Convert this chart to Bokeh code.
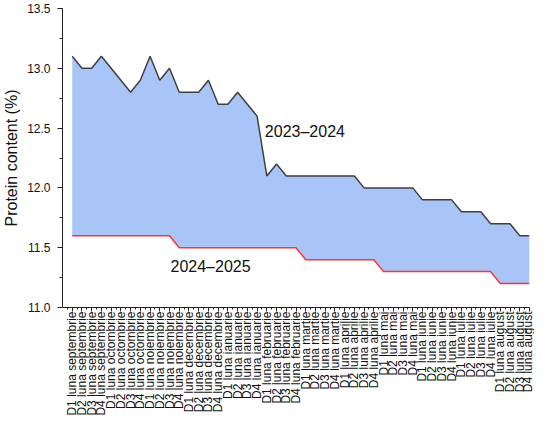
import math
from bokeh.plotting import figure
from bokeh.models import Range1d, FixedTicker, SingleIntervalTicker, PrintfTickFormatter, Label, ColumnDataSource
from bokeh.embed import file_html
from bokeh.resources import INLINE

months = ["septembrie", "octombrie", "noiembrie", "decembrie", "ianuarie", "februarie",
          "martie", "aprilie", "mai", "iunie", "iulie", "august"]
categories = [f"D{d} luna {m}" for m in months for d in range(1, 5)]

season_2023_2024 = [13.1, 13.0, 13.0, 13.1,
                    13.0, 12.9, 12.8, 12.9,
                    13.1, 12.9, 13.0, 12.8,
                    12.8, 12.8, 12.9, 12.7,
                    12.7, 12.8, 12.7, 12.6,
                    12.1, 12.2, 12.1, 12.1,
                    12.1, 12.1, 12.1, 12.1,
                    12.1, 12.1, 12.0, 12.0,
                    12.0, 12.0, 12.0, 12.0,
                    11.9, 11.9, 11.9, 11.9,
                    11.8, 11.8, 11.8, 11.7,
                    11.7, 11.7, 11.6, 11.6]

season_2024_2025 = [11.6, 11.6, 11.6, 11.6,
                    11.6, 11.6, 11.6, 11.6,
                    11.6, 11.6, 11.6, 11.5,
                    11.5, 11.5, 11.5, 11.5,
                    11.5, 11.5, 11.5, 11.5,
                    11.5, 11.5, 11.5, 11.5,
                    11.4, 11.4, 11.4, 11.4,
                    11.4, 11.4, 11.4, 11.4,
                    11.3, 11.3, 11.3, 11.3,
                    11.3, 11.3, 11.3, 11.3,
                    11.3, 11.3, 11.3, 11.3,
                    11.2, 11.2, 11.2, 11.2]

series_names = ["2023\u20132024", "2024\u20132025"]
label_x = [19.8, 10.1]
label_y = [12.47, 11.343]

y_ticks_start, y_ticks_end = 11.0, 13.5

x = list(range(len(categories)))
src = ColumnDataSource(dict(x=x, top=season_2023_2024, bottom=season_2024_2025))

p = figure(width=534, height=418, output_backend="svg", toolbar_location=None,
           x_range=Range1d(-1, len(categories) - 1), y_range=Range1d(y_ticks_start, y_ticks_end),
           min_border_left=57, min_border_right=5, min_border_top=8, min_border_bottom=100)
p.outline_line_color = None
p.xgrid.visible = False
p.ygrid.visible = False
p.background_fill_color = "white"
p.border_fill_color = "white"

p.varea(x="x", y1="bottom", y2="top", source=src, fill_color="#a9c5f7")
p.line(x="x", y="top", source=src, line_color="#404040", line_width=1.5)
p.line(x="x", y="bottom", source=src, line_color="#ff3333", line_width=1.5)

for name, lx, ly in zip(series_names, label_x, label_y):
    p.add_layout(Label(x=lx, y=ly, text=name, text_font="Liberation Sans", text_font_size="16px",
                       text_baseline="middle", text_align="left", text_color="#111111"))

# x axis
p.xaxis.ticker = FixedTicker(ticks=x, minor_ticks=[i + 0.5 for i in range(-1, len(categories) - 1)])
p.xaxis.major_label_overrides = {i: c for i, c in enumerate(categories)}
p.xaxis.major_label_orientation = math.pi / 2
p.xaxis.major_label_text_font = "Liberation Sans"
p.xaxis.major_label_text_font_size = "12px"
p.xaxis.major_label_text_color = "#111111"
p.xaxis.major_label_standoff = 0
p.xaxis.major_tick_in = 0
p.xaxis.major_tick_out = 4
p.xaxis.minor_tick_in = 0
p.xaxis.minor_tick_out = 2
p.xaxis.axis_line_color = "#222222"
p.xaxis.major_tick_line_color = "#222222"
p.xaxis.minor_tick_line_color = "#222222"

# y axis
p.yaxis.ticker = SingleIntervalTicker(interval=0.5, num_minor_ticks=2)
p.yaxis.formatter = PrintfTickFormatter(format="%.1f")
p.yaxis.axis_label = "Protein content (%)"
p.yaxis.axis_label_text_font = "Liberation Sans"
p.yaxis.axis_label_text_font_style = "normal"
p.yaxis.axis_label_text_font_size = "16px"
p.yaxis.axis_label_text_color = "#111111"
p.yaxis.axis_label_standoff = 4
p.yaxis.major_label_text_font = "Liberation Sans"
p.yaxis.major_label_text_font_size = "12px"
p.yaxis.major_label_text_color = "#111111"
p.yaxis.major_label_standoff = 7
p.yaxis.major_tick_in = 0
p.yaxis.major_tick_out = 5
p.yaxis.minor_tick_in = 0
p.yaxis.minor_tick_out = 3
p.yaxis.axis_line_color = "#222222"
p.yaxis.major_tick_line_color = "#222222"
p.yaxis.minor_tick_line_color = "#222222"

open("out.html", "w").write(file_html(p, INLINE))
